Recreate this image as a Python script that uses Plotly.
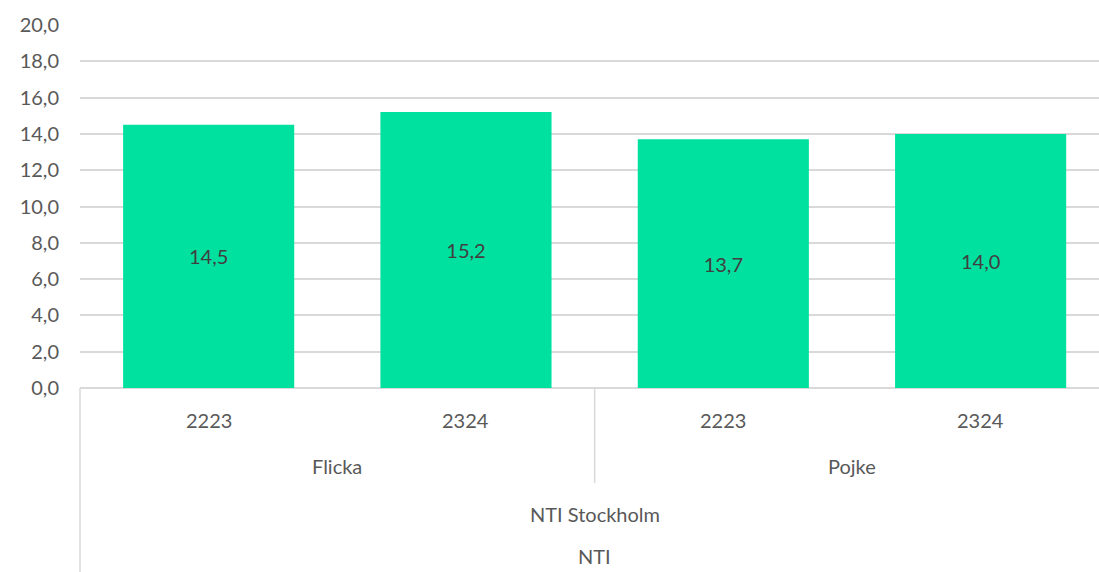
import plotly.graph_objects as go

years = ["2223", "2324", "2223", "2324"]
genders = ["Flicka", "Pojke"]
school = "NTI Stockholm"
org = "NTI"
values = [14.5, 15.2, 13.7, 14.0]
y_ticks = [0, 2, 4, 6, 8, 10, 12, 14, 16, 18, 20]

W, H = 1099, 572
L, R, T, B = 80, 0, 25, 184
XMIN, XMAX = -0.5, 3.46
plot_h = H - T - B

def px_to_paper_y(py):
    return (H - B - py) / plot_h

def data_to_paper_x(d):
    return (d - XMIN) / (XMAX - XMIN)

FONT = "Lato, sans-serif"

xs = list(range(len(values)))
fig = go.Figure(go.Bar(
    x=xs, y=values, width=0.665,
    marker=dict(color="#00E1A0", line=dict(width=0)),
    text=[f"{v:.1f}".replace(".", ",") for v in values],
    textposition="inside", insidetextanchor="middle",
    textfont=dict(size=20, color="#404040", family=FONT),
    hoverinfo="skip",
))

annotations = []
for i, yr in enumerate(years):
    annotations.append(dict(x=i, y=px_to_paper_y(420), xref="x", yref="paper",
                            text=yr, showarrow=False, yanchor="middle"))
for g, gi in enumerate(genders):
    annotations.append(dict(x=g * 2 + 0.5, y=px_to_paper_y(466), xref="x", yref="paper",
                            text=gi, showarrow=False, yanchor="middle"))
annotations.append(dict(x=1.5, y=px_to_paper_y(514), xref="x", yref="paper",
                        text=school, showarrow=False, yanchor="middle"))
annotations.append(dict(x=1.5, y=px_to_paper_y(556), xref="x", yref="paper",
                        text=org, showarrow=False, yanchor="middle"))
for a in annotations:
    a["font"] = dict(size=20, color="#595959", family=FONT)

shapes = [
    dict(type="line", xref="paper", yref="paper", x0=0, x1=0,
         y0=0, y1=px_to_paper_y(H), line=dict(color="#D9D9D9", width=1.5)),
    dict(type="line", xref="paper", yref="paper",
         x0=data_to_paper_x(1.5), x1=data_to_paper_x(1.5),
         y0=0, y1=px_to_paper_y(483), line=dict(color="#D9D9D9", width=1.5)),
]

fig.update_layout(
    width=W, height=H,
    margin=dict(l=L, r=R, t=T, b=B, autoexpand=False),
    paper_bgcolor="white", plot_bgcolor="white",
    showlegend=False,
    annotations=annotations,
    shapes=shapes,
    font=dict(family=FONT, color="#595959"),
)
fig.update_xaxes(range=[XMIN, XMAX], showticklabels=False, showgrid=False,
                 zeroline=False, showline=False, ticks="", automargin=False)
fig.update_yaxes(range=[0, 20], tickvals=y_ticks,
                 ticktext=[f"{v:.1f}".replace(".", ",") for v in y_ticks],
                 tickfont=dict(size=20, color="#595959", family=FONT),
                 showgrid=True, gridcolor="#D9D9D9", gridwidth=1.5,
                 zeroline=True, zerolinecolor="#D9D9D9", zerolinewidth=1.5,
                 showline=False, ticks="", ticklabelstandoff=20, automargin=False)

fig.write_html("out.html", config={"displayModeBar": False},
               post_script="document.body.style.margin='0';document.body.style.overflow='hidden';")
